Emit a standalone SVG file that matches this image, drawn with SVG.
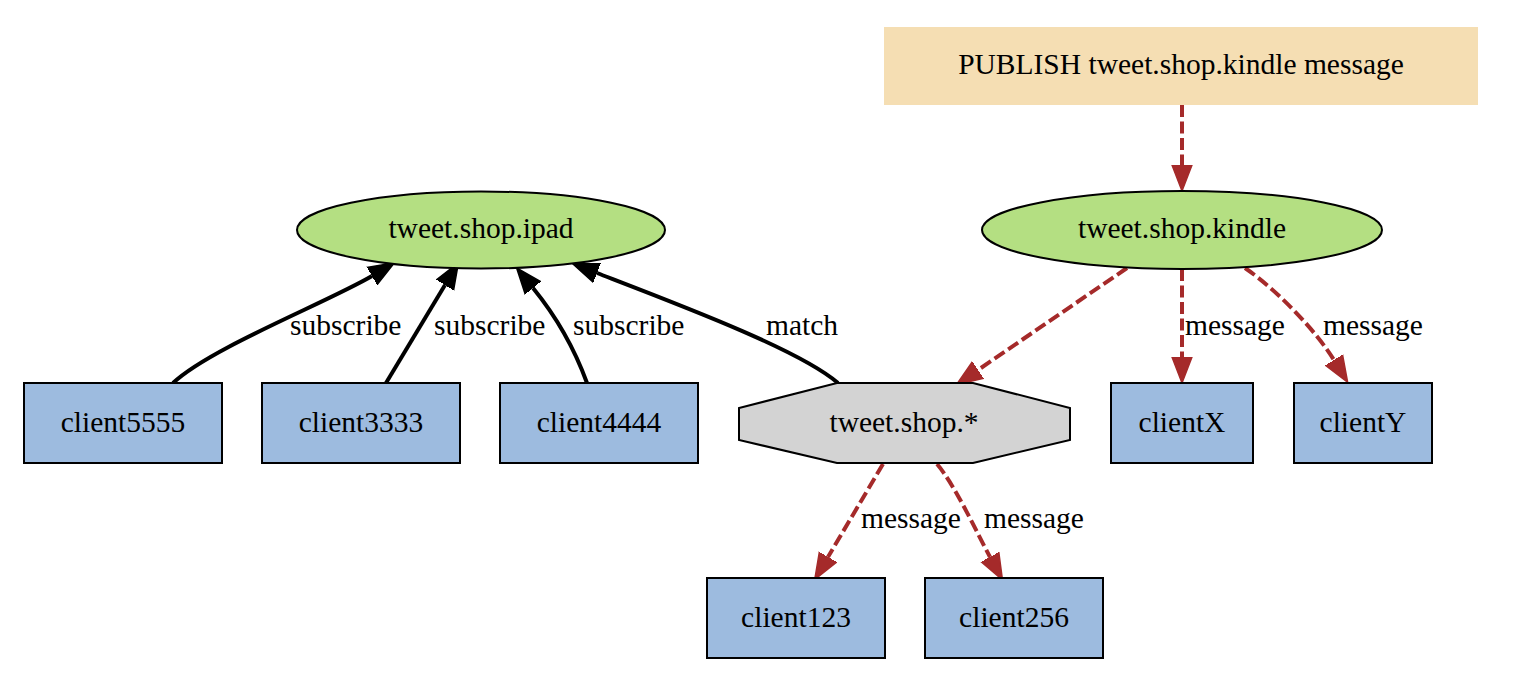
<svg xmlns="http://www.w3.org/2000/svg" width="1526" height="678" viewBox="0 0 1526 678">
<style>
text{font-family:"Liberation Serif","Times New Roman",serif;font-size:29.5px;fill:#000}
.n text{text-anchor:middle}
.box{fill:#9dbbdf;stroke:#000;stroke-width:2}
.ell{fill:#b4df82;stroke:#000;stroke-width:2}
.sub{fill:none;stroke:#000;stroke-width:4}
.msg{fill:none;stroke:#a52a2a;stroke-width:4;stroke-dasharray:12,4.5}
</style>
<defs>
<marker id="ab" markerUnits="userSpaceOnUse" markerWidth="30" markerHeight="24" viewBox="0 -12 30 24" refX="0" refY="0" orient="auto"><path d="M0,-10 L26,0 L0,10 z" fill="#000" stroke="#000" stroke-width="1.5"/></marker>
<marker id="ar" markerUnits="userSpaceOnUse" markerWidth="30" markerHeight="24" viewBox="0 -12 30 24" refX="0" refY="0" orient="auto"><path d="M0,-10 L26,0 L0,10 z" fill="#a52a2a" stroke="#a52a2a" stroke-width="1.5"/></marker>
</defs>
<rect width="1526" height="678" fill="#fff"/>
<g id="edges">
<path class="sub" d="M173,383 C210,348 328,302 372,276" marker-end="url(#ab)"/>
<path class="sub" d="M386,383 L445,285" marker-end="url(#ab)"/>
<path class="sub" d="M587,383 C575,350 555,315 533,288" marker-end="url(#ab)"/>
<path class="sub" d="M838,383 C800,350 680,305 597,273" marker-end="url(#ab)"/>
<path class="msg" d="M1182,105 L1182,165" marker-end="url(#ar)"/>
<path class="msg" d="M1127,268 L978,370" marker-end="url(#ar)"/>
<path class="msg" d="M1182,269 L1182,357" marker-end="url(#ar)"/>
<path class="msg" d="M1245,268 C1280,292 1318,334 1334,360" marker-end="url(#ar)"/>
<path class="msg" d="M883,464 L828,557" marker-end="url(#ar)"/>
<path class="msg" d="M937,464 C955,485 978,535 990,557" marker-end="url(#ar)"/>
<text x="290" y="335">subscribe</text>
<text x="434" y="335">subscribe</text>
<text x="573" y="335">subscribe</text>
<text x="766" y="335">match</text>
<text x="1185" y="335">message</text>
<text x="1323" y="335">message</text>
<text x="861" y="528">message</text>
<text x="984" y="528">message</text>
</g>
<g id="publish" class="n"><rect x="884" y="27" width="594" height="78" fill="#f5deb3"/><text x="1181" y="74">PUBLISH tweet.shop.kindle message</text></g>
<g id="ipad" class="n"><ellipse class="ell" cx="481" cy="230" rx="184" ry="38.5"/><text x="481" y="238">tweet.shop.ipad</text></g>
<g id="kindle" class="n"><ellipse class="ell" cx="1182" cy="230" rx="200" ry="39"/><text x="1182" y="238">tweet.shop.kindle</text></g>
<g id="client5555" class="n"><rect class="box" x="24" y="383" width="198" height="80"/><text x="123" y="432">client5555</text></g>
<g id="client3333" class="n"><rect class="box" x="262" y="383" width="198" height="80"/><text x="361" y="432">client3333</text></g>
<g id="client4444" class="n"><rect class="box" x="500" y="383" width="198" height="80"/><text x="599" y="432">client4444</text></g>
<g id="pattern" class="n"><polygon points="837,383 973,383 1070,408 1070,440 973,463 837,463 739,440 739,408" fill="#d3d3d3" stroke="#000" stroke-width="2"/><text x="904" y="432">tweet.shop.*</text></g>
<g id="clientX" class="n"><rect class="box" x="1111" y="383" width="142" height="80"/><text x="1182" y="432">clientX</text></g>
<g id="clientY" class="n"><rect class="box" x="1294" y="383" width="138" height="80"/><text x="1363" y="432">clientY</text></g>
<g id="client123" class="n"><rect class="box" x="707" y="578" width="178" height="80"/><text x="796" y="627">client123</text></g>
<g id="client256" class="n"><rect class="box" x="925" y="578" width="178" height="80"/><text x="1014" y="627">client256</text></g>
</svg>
